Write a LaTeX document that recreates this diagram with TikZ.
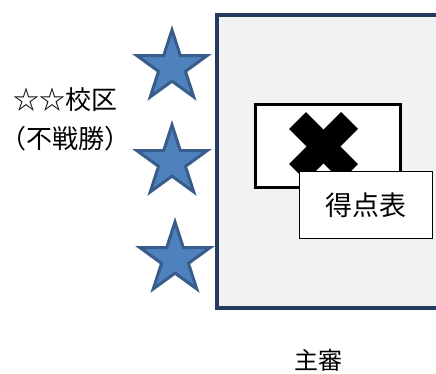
\documentclass[tikz,border=0pt]{standalone}
\usepackage{fontspec}
\setmainfont{Noto Sans CJK JP}
\usetikzlibrary{shapes.geometric}
\definecolor{boardline}{RGB}{36,58,94}
\definecolor{boardfill}{RGB}{242,242,242}
\definecolor{starfill}{RGB}{79,129,189}
\definecolor{starline}{RGB}{56,93,138}
\begin{document}
\begin{tikzpicture}[line join=miter,
  starnode/.style={star,star points=5,star point ratio=2.618,draw=starline,fill=starfill,line width=3bp,minimum size=74bp,inner sep=0pt},
  board/.style={draw=boardline,fill=boardfill,line width=4bp,inner sep=0pt},
  card/.style={draw=black,fill=white,line width=3bp,inner sep=0pt},
  crossbar/.style={line width=24bp,line cap=butt},
  sheet/.style={draw=black,fill=white,line width=1bp,inner sep=0pt,font=\fontsize{27bp}{30bp}\selectfont},
  note/.style={inner sep=0pt,font=\fontsize{26bp}{30bp}\selectfont},
]
%%
\useasboundingbox (0bp,0bp) rectangle (436bp,374bp);
\clip (0bp,0bp) rectangle (436bp,374bp);
\node (board) at (343.5bp,212.5bp) [board,minimum width=253bp,minimum height=293bp] {};
  \node (card) at (328.0bp,228.0bp) [card,minimum width=145bp,minimum height=83bp] {};
  \coordinate (cross) at (323.5bp,227.5bp);
  \draw [crossbar] ([shift={(-26bp,26bp)}]cross) -- ([shift={(26bp,-26bp)}]cross);
  \draw [crossbar] ([shift={(-26bp,-26bp)}]cross) -- ([shift={(26bp,26bp)}]cross);
  \node (sheet) at (366.0bp,169.0bp) [sheet,minimum width=133bp,minimum height=67bp] {得点表};
%
\node (star_0) at (172.0bp,307.0bp) [starnode] {};
  \node (star_1) at (172.0bp,212.0bp) [starnode] {};
  \node (star_2) at (175.0bp,115.0bp) [starnode] {};
%
\node (school) at (65.0bp,274.0bp) [note] {☆☆校区};
  \node (bye) at (65.0bp,235.0bp) [note] {（不戦勝）};
  \node (referee) at (318.5bp,14.0bp) [note,font=\fontsize{24bp}{28bp}\selectfont] {主審};
%
\end{tikzpicture}
\end{document}
